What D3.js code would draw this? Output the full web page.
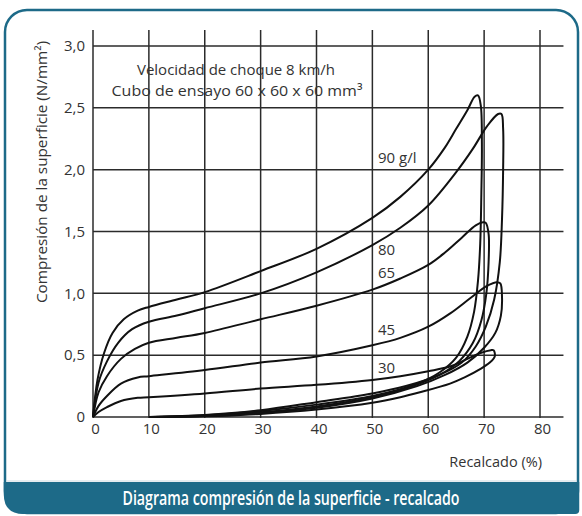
<!DOCTYPE html>
<html>
<head>
<meta charset="utf-8">
<script src="https://cdn.jsdelivr.net/npm/d3@7"></script>
<style>
  body { margin: 0; background: #fff; }
  text { font-family: "Open Sans", sans-serif; }
</style>
</head>
<body>
<svg id="chart"></svg>
<script>
// axis ticks
const xTicks = [0, 10, 20, 30, 40, 50, 60, 70, 80];
const yTicks = [0, 0.5, 1.0, 1.5, 2.0, 2.5, 3.0];
const yTickLabels = ["0", "0,5", "1,0", "1,5", "2,0", "2,5", "3,0"];

// density labels (g/l)
const densities = ["90 g/l", "80", "65", "45", "30"];

// loading branches [recalcado %, N/mm2]
const load90 = [[0,0],[0.8,0.3],[2,0.52],[3.5,0.68],[5.5,0.79],[8,0.86],[10,0.89],[15,0.95],[20,1.01],[30,1.18],[40,1.36],[50,1.61],[55,1.78],[60,2.0],[63,2.18],[65,2.33],[67,2.48],[68.3,2.59]];
const load80 = [[0,0],[1,0.28],[2.5,0.45],[4.5,0.6],[7,0.71],[10,0.77],[15,0.82],[20,0.88],[30,1.0],[40,1.17],[50,1.39],[55,1.53],[60,1.71],[65,1.98],[68,2.17],[70.5,2.35],[72.5,2.45]];
const load65 = [[0,0],[1,0.2],[2.5,0.33],[5,0.47],[7.5,0.55],[10,0.6],[15,0.64],[20,0.68],[30,0.79],[40,0.9],[50,1.03],[55,1.12],[60,1.23],[63,1.33],[66,1.45],[68.5,1.55],[69.8,1.575]];
const load45 = [[0,0],[1,0.09],[2.5,0.17],[5,0.27],[8,0.32],[10,0.33],[20,0.38],[30,0.44],[40,0.49],[50,0.58],[55,0.64],[60,0.73],[64,0.84],[67.5,0.96],[70.5,1.06],[72.3,1.09]];
const load30 = [[0,0],[1,0.04],[2.5,0.08],[5,0.13],[8,0.155],[10,0.16],[20,0.19],[30,0.23],[40,0.26],[50,0.3],[55,0.33],[60,0.37],[64,0.41],[67,0.47],[69.5,0.52],[71.2,0.54]];

// unloading branches, from the peak back to zero
const unload90 = [[68.9,2.6],[69.4,2.52],[69.6,2.2],[69.5,1.8],[69.3,1.4],[68.9,1.1],[68.2,0.85],[67,0.65],[65,0.48],[62,0.36],[58,0.27],[50,0.17],[40,0.1],[30,0.048],[20,0.014],[10,0]];
const unload80 = [[73.1,2.45],[73.4,2.33],[73.4,2.0],[73.2,1.6],[72.8,1.25],[71.8,0.95],[70.3,0.73],[68.5,0.57],[66,0.44],[62,0.34],[56,0.25],[50,0.19],[40,0.12],[30,0.055],[20,0.017],[10.3,0]];
const unload65 = [[70.3,1.57],[70.8,1.48],[70.8,1.25],[70.4,1.0],[69.5,0.78],[68,0.6],[65.5,0.45],[62,0.34],[56,0.23],[50,0.16],[40,0.085],[30,0.038],[20,0.01],[11,0]];
const unload45 = [[72.9,1.08],[73.2,0.97],[73,0.82],[72,0.68],[70,0.56],[67,0.44],[63,0.34],[58,0.25],[50,0.15],[40,0.075],[30,0.032],[20,0.008],[11.5,0]];
const unload30 = [[71.7,0.54],[71.9,0.49],[71,0.44],[69.2,0.385],[66.5,0.32],[63.9,0.27],[58.5,0.2],[55,0.16],[50,0.115],[40,0.06],[30,0.025],[20,0.006],[12,0]];

const loops = [
  { label: densities[0], pts: load90.concat(unload90), lx: 378, ly: 163 },
  { label: densities[1], pts: load80.concat(unload80), lx: 378, ly: 255 },
  { label: densities[2], pts: load65.concat(unload65), lx: 378, ly: 278 },
  { label: densities[3], pts: load45.concat(unload45), lx: 378, ly: 335 },
  { label: densities[4], pts: load30.concat(unload30), lx: 378, ly: 373 }
];

const W = 582, H = 516;
const teal = "#1d6a88";

const svg = d3.select("#chart").attr("width", W).attr("height", H);

// card frame
svg.append("rect")
  .attr("x", 5).attr("y", 10).attr("width", 573).attr("height", 503)
  .attr("rx", 22).attr("ry", 22)
  .attr("fill", "#fff").attr("stroke", teal).attr("stroke-width", 2.5);

// footer band
const fTop = 482, fBot = 514, fL = 3.75, fR = 579.25, r = 20;
svg.append("path")
  .attr("d", `M${fL},${fTop} H${fR} V${fBot - 4} Q${fR},${fBot} ${fR - 4},${fBot} H${fL + r} Q${fL},${fBot} ${fL},${fBot - r} Z`)
  .attr("fill", teal);
svg.append("line")
  .attr("x1", 6).attr("x2", 577).attr("y1", 481).attr("y2", 481)
  .attr("stroke", "#c9d8e0").attr("stroke-width", 1);
svg.append("text")
  .attr("x", 291).attr("y", 505)
  .attr("text-anchor", "middle")
  .attr("fill", "#fff").attr("font-size", 19).attr("font-weight", 600)
  .attr("textLength", 337).attr("lengthAdjust", "spacingAndGlyphs")
  .text("Diagrama compresión de la superficie - recalcado");

// scales
const x = d3.scaleLinear().domain([0, 80]).range([93, 540]);
const y = d3.scaleLinear().domain([0, 3]).range([417, 46]);

// grid
const grid = svg.append("g").attr("stroke", "#2b2b2b").attr("stroke-width", 1.5);
grid.selectAll(".v").data(xTicks).enter().append("line")
  .attr("x1", d => x(d)).attr("x2", d => x(d))
  .attr("y1", y(3.13)).attr("y2", y(0) + 1);
grid.selectAll(".h").data(yTicks).enter().append("line")
  .attr("x1", x(0)).attr("x2", x(84.2))
  .attr("y1", d => y(d)).attr("y2", d => y(d));

// tick labels via axes
const xAxis = svg.append("g")
  .attr("transform", "translate(2," + y(0) + ")")
  .call(d3.axisBottom(x).tickValues(xTicks).tickSize(0).tickPadding(6).tickFormat(d3.format("d")));
const yAxis = svg.append("g")
  .attr("transform", "translate(" + (x(0) - 1) + ",0)")
  .call(d3.axisLeft(y).tickValues(yTicks).tickSize(0).tickPadding(7).tickFormat((d, i) => yTickLabels[i]));
[xAxis, yAxis].forEach(a => {
  a.select(".domain").remove();
  a.selectAll("text").attr("font-size", 15).attr("fill", "#333")
    .style("font-family", '"Open Sans", sans-serif');
});

// axis titles
svg.append("text")
  .attr("x", 542).attr("y", 467).attr("text-anchor", "end")
  .attr("font-size", 14.5).attr("fill", "#333")
  .text("Recalcado (%)");
svg.append("text")
  .attr("transform", "translate(47,172) rotate(-90)")
  .attr("text-anchor", "middle")
  .attr("font-size", 14.5).attr("fill", "#333")
  .attr("textLength", 262).attr("lengthAdjust", "spacingAndGlyphs")
  .text("Compresión de la superficie (N/mm²)");

// test conditions
svg.append("text")
  .attr("x", 236).attr("y", 75).attr("text-anchor", "middle")
  .attr("font-size", 14.5).attr("fill", "#333")
  .attr("textLength", 198).attr("lengthAdjust", "spacingAndGlyphs")
  .text("Velocidad de choque 8 km/h");
svg.append("text")
  .attr("x", 237).attr("y", 96).attr("text-anchor", "middle")
  .attr("font-size", 14.5).attr("fill", "#333")
  .attr("textLength", 251).attr("lengthAdjust", "spacingAndGlyphs")
  .text("Cubo de ensayo 60 x 60 x 60 mm³");

// hysteresis loops
const line = d3.line()
  .x(d => x(d[0])).y(d => y(d[1]))
  .curve(d3.curveCatmullRom.alpha(0.5));

svg.append("g")
  .selectAll("path")
  .data(loops)
  .enter()
  .append("path")
  .attr("d", d => line(d.pts))
  .attr("fill", "none")
  .attr("stroke", "#111")
  .attr("stroke-width", 2)
  .attr("stroke-linejoin", "round");

svg.append("g")
  .selectAll("text")
  .data(loops)
  .enter()
  .append("text")
  .attr("x", d => d.lx).attr("y", d => d.ly)
  .attr("font-size", 15).attr("fill", "#333")
  .text(d => d.label);
</script>
</body>
</html>
